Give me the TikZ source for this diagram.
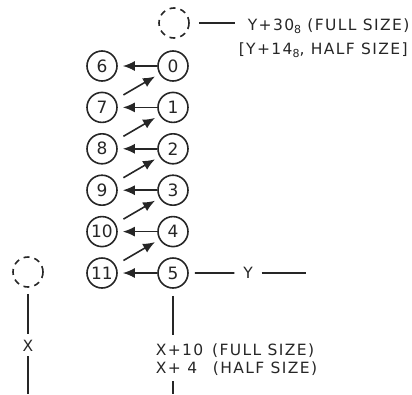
\documentclass[tikz,border=0pt]{standalone}
\usepackage{fontspec}
\setmainfont{DejaVu Sans}[LetterSpace=9]
\usetikzlibrary{arrows.meta, positioning}

\newcommand\lowsub[1]{\raisebox{-0.35ex}{\fontsize{11}{11}\selectfont #1}}

\tikzset{
  num/.style={circle, draw, minimum size=30pt, inner sep=0pt,
    font=\fontsize{17}{17}\selectfont\addfontfeature{LetterSpace=0}},
  ghost/.style={circle, draw, dash pattern=on 6pt off 5pt, minimum size=30pt, inner sep=0pt},
  arr/.style={-{Latex[length=12pt,width=10pt]}, shorten >=5pt},
  lbl/.style={inner sep=0pt, font=\fontsize{15.5}{18}\selectfont},
}

\begin{document}
\begin{tikzpicture}[x=1pt, y=-1pt, line width=1.6pt, draw=black!85, text=black!85,
    node distance=41.4pt, on grid]
        \useasboundingbox (0,0) rectangle (412,394);

        % right column
        \node[num] (r0) at (173,66) {0};
        \node[num] (r1) [below=of r0] {1};
        \node[num] (r2) [below=of r1] {2};
        \node[num] (r3) [below=of r2] {3};
        \node[num] (r4) [below=of r3] {4};
        \node[num] (r5) [below=of r4] {5};
        % left column
        \node[num] (l0) [left=71pt of r0] {6};
        \node[num] (l1) [left=71pt of r1] {7};
        \node[num] (l2) [left=71pt of r2] {8};
        \node[num] (l3) [left=71pt of r3] {9};
        \node[num] (l4) [left=71pt of r4] {10};
        \node[num] (l5) [left=71pt of r5] {11};

        \node[ghost] (top) at (174,23) {};
        \node[ghost] (side) at (28,272) {};

        \node[lbl, anchor=west] (full) at (247,26) {Y+30\lowsub{8} (FULL SIZE)};
        \node[lbl, anchor=west] (half) at (238,50) {[Y+14\lowsub{8}, HALF SIZE]};
        \node[lbl] (ylab) at (248,273) {Y};
        \node[lbl, anchor=north west, align=left] (sizes) at (155,343)
            {X+10\ \,(FULL SIZE)\\X+\makebox[1.5em]{4}\ \,(HALF SIZE)};
        \node[lbl] (xlab) at (28,346) {X};
        \coordinate (yend) at (306,273);
        \coordinate (foot) at (173,394);
        \coordinate (sidefoot) at (28,394);

        \path[arr]
        (r0) edge (l0)
        (r1) edge (l1)
        (r2) edge (l2)
        (r3) edge (l3)
        (r4) edge (l4)
        (r5) edge (l5)
        (l1) edge [shorten <=9pt] (r0)
        (l2) edge [shorten <=9pt] (r1)
        (l3) edge [shorten <=9pt] (r2)
        (l4) edge [shorten <=9pt] (r3)
        (l5) edge [shorten <=9pt] (r4);

        \draw[shorten <=9pt, shorten >=12pt] (top) -- (top -| full.west);
        \draw[shorten <=6pt, shorten >=8pt] (r5) -- (ylab);
        \draw[shorten <=8pt] (ylab) -- (yend);
        \draw[shorten <=7pt, shorten >=8pt] (r5) -- (r5 |- sizes.north);
        \draw[shorten <=5pt] (r5 |- sizes.south) -- (foot);
        \draw[shorten <=6pt, shorten >=6pt] (side) -- (xlab);
        \draw[shorten <=4pt] (xlab) -- (sidefoot);
\end{tikzpicture}
\end{document}
